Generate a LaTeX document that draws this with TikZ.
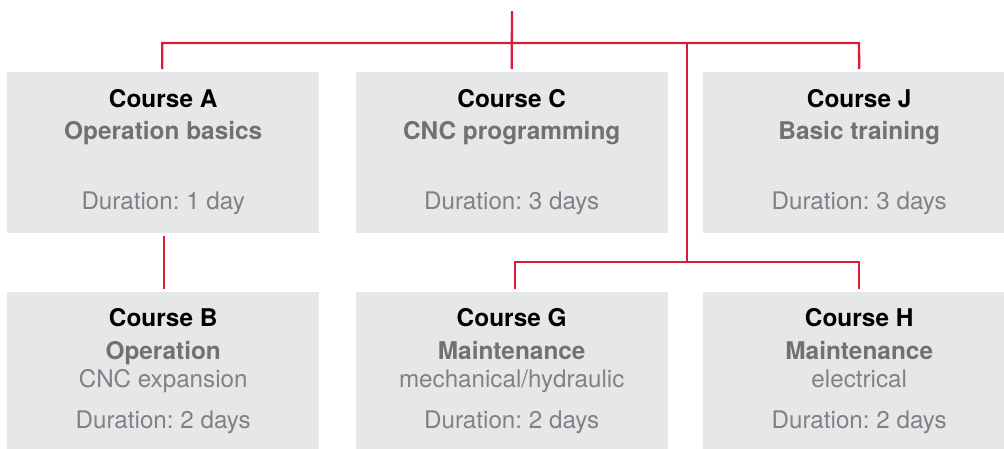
\documentclass[tikz,border=0pt]{standalone}
\usepackage{fontspec}
\setmainfont{TeX Gyre Heros}
\frenchspacing
\definecolor{boxgray}{HTML}{E6E7E8}
\definecolor{linered}{HTML}{D81E34}
\definecolor{subgray}{HTML}{707173}
\definecolor{txtgray}{HTML}{808184}
\begin{document}
\begin{tikzpicture}[x=1pt,y=-1pt,
  coursebox/.style={fill=boxgray,draw=none,minimum width=312pt,minimum height=161pt,inner sep=0pt,anchor=north west},
  ttl/.style={anchor=base,inner sep=0pt,font=\fontsize{24.4}{28}\selectfont\bfseries,text=black},
  sub/.style={anchor=base,inner sep=0pt,font=\fontsize{24.4}{28}\selectfont\bfseries,text=subgray},
  txt/.style={anchor=base,inner sep=0pt,font=\fontsize{24.2}{28}\selectfont,text=txtgray},
  conn/.style={draw=linered,line width=2.3pt}]
\useasboundingbox (0,0) rectangle (1004,448);
\begin{scope}
\clip (0,0) rectangle (1004,448);
% row 1
\node[coursebox] (A) at (7,72) {};
\node[coursebox] (C) at (355.5,72) {};
\node[coursebox] (J) at (703,72) {};
% row 2
\node[coursebox] (B) at (7,292) {};
\node[coursebox] (G) at (355.5,292) {};
\node[coursebox] (H) at (703,292) {};
\end{scope}
% texts row 1
\node[ttl] (At) at ([yshift=-35pt]A.north) {Course A};
\node[sub] (As) at ([yshift=-67pt]A.north) {Operation basics};
\node[txt] (Ad) at ([yshift=-137pt]A.north) {Duration: 1 day};
\node[ttl] (Ct) at ([yshift=-35pt]C.north) {Course C};
\node[sub] (Cs) at ([yshift=-67pt]C.north) {CNC programming};
\node[txt] (Cd) at ([yshift=-137pt]C.north) {Duration: 3 days};
\node[ttl] (Jt) at ([yshift=-35pt]J.north) {Course J};
\node[sub] (Js) at ([yshift=-67pt]J.north) {Basic training};
\node[txt] (Jd) at ([yshift=-137pt]J.north) {Duration: 3 days};
% texts row 2
\node[ttl] (Bt) at ([yshift=-34pt]B.north) {Course B};
\node[sub] (Bs) at ([yshift=-67pt]B.north) {Operation};
\node[txt] (Bx) at ([yshift=-95pt]B.north) {CNC expansion};
\node[txt] (Bd) at ([yshift=-136pt]B.north) {Duration: 2 days};
\node[ttl] (Gt) at ([yshift=-34pt]G.north) {Course G};
\node[sub] (Gs) at ([yshift=-67pt]G.north) {Maintenance};
\node[txt] (Gx) at ([yshift=-95pt]G.north) {mechanical/hydraulic};
\node[txt] (Gd) at ([yshift=-136pt]G.north) {Duration: 2 days};
\node[ttl] (Ht) at ([yshift=-34pt]H.north) {Course H};
\node[sub] (Hs) at ([yshift=-67pt]H.north) {Maintenance};
\node[txt] (Hx) at ([yshift=-95pt]H.north) {electrical};
\node[txt] (Hd) at ([yshift=-136pt]H.north) {Duration: 2 days};
% connectors
\coordinate (top) at (512,11);
\coordinate (busR) at (859,43);
\coordinate (jn) at (687,43);
\coordinate (jn2) at (687,262);
\draw[conn] (top) -- ([yshift=3pt]C.north);
\draw[conn] ([xshift=-1pt,yshift=3pt]A.north) |- (busR) -- ([yshift=3pt]J.north);
\draw[conn] (jn) -- (jn2);
\draw[conn] ([xshift=3.5pt,yshift=3pt]G.north) |- (jn2) -| ([yshift=3pt]H.north);
\draw[conn] ([xshift=1pt,yshift=-3pt]A.south) -- ([xshift=1pt,yshift=3pt]B.north);
\end{tikzpicture}
\end{document}
